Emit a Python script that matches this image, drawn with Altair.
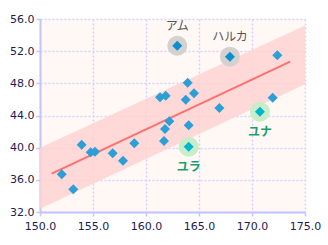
import altair as alt
import pandas as pd

# regular points (height cm, weight kg)
heights = [152.05, 153.14, 153.93, 154.78, 155.19, 156.86, 157.83, 158.90, 161.70, 161.79,
           162.20, 161.32, 161.86, 163.93, 163.75, 164.53, 164.03, 166.92, 172.39, 171.95]
weights = [36.69, 34.82, 40.37, 39.43, 39.50, 39.30, 38.38, 40.54, 40.83, 42.32,
           43.28, 46.27, 46.47, 48.08, 45.97, 46.76, 42.78, 44.94, 51.49, 46.22]

# highlighted people
names = ["アム", "ハルカ", "ユナ", "ユラ"]
hl_heights = [162.95, 167.92, 170.75, 164.03]
hl_weights = [52.68, 51.32, 44.48, 40.12]
hl_group = ["above", "above", "below", "below"]

# regression line and band
line_x = [151.1, 173.6]
line_y = [36.77, 50.70]
band_x = [150.0, 175.0]
band_lo = [32.4, 47.9]
band_hi = [40.0, 55.2]

x_ticks = [150, 155, 160, 165, 170, 175]
y_ticks = [32, 36, 40, 44, 48, 52, 56]

pts = pd.DataFrame({"h": heights, "w": weights})
hl = pd.DataFrame({"name": names, "h": hl_heights, "w": hl_weights, "g": hl_group})
ln = pd.DataFrame({"h": line_x, "w": line_y})
bd = pd.DataFrame({"h": band_x, "w": band_lo, "hi": band_hi})

xs = alt.Scale(domain=[150, 175], nice=False, zero=False)
ys = alt.Scale(domain=[32, 56], nice=False, zero=False)

axis_common = dict(
    format=".1f", labelFont="DejaVu Sans", labelFontSize=11, labelColor="#1c1c50",
    domainColor="#c4c4ff", domainWidth=2, tickColor="#c4c4ff", tickSize=4, tickWidth=1.5,
    gridColor="#d2d2ff", gridDash=[2, 2], gridWidth=1.5, title=None,
    labelOverlap=False, labelFlush=False, labelBound=False,
)
xaxis = alt.Axis(values=x_ticks, labelPadding=4, **axis_common)
yaxis = alt.Axis(values=y_ticks, labelPadding=2, **axis_common)

X = alt.X("h:Q", scale=xs, axis=xaxis)
Y = alt.Y("w:Q", scale=ys, axis=yaxis)

band = alt.Chart(bd).mark_area(color="#ffd2d2", opacity=0.85).encode(x=X, y=Y, y2="hi:Q")
line = alt.Chart(ln).mark_line(color="#ff7070", strokeWidth=2).encode(x=X, y=Y)
dots = alt.Chart(pts).mark_point(shape="diamond", filled=True, size=100, color="#2b9fd6", opacity=1).encode(x=X, y=Y)
halo = alt.Chart(hl).mark_circle(size=400, opacity=1).encode(
    x=X, y=Y,
    color=alt.Color("g:N", scale=alt.Scale(domain=["above", "below"], range=["#d4d1cf", "#c9ecc9"]), legend=None),
)
hl_dots = alt.Chart(hl).mark_point(shape="diamond", filled=True, size=100, opacity=1).encode(
    x=X, y=Y,
    color=alt.Color("g:N", scale=alt.Scale(domain=["above", "below"], range=["#0a90d0", "#00b6cc"]), legend=None),
)
lab_above = alt.Chart(hl[hl.g == "above"]).mark_text(
    dy=-20, font="Noto Sans CJK JP", fontSize=12, color="#555555"
).encode(x=X, y=Y, text="name:N")
lab_below = alt.Chart(hl[hl.g == "below"]).mark_text(
    dy=20, font="Noto Sans CJK JP", fontSize=12, color="#1a9e6e", fontWeight="bold"
).encode(x=X, y=Y, text="name:N")

chart = alt.layer(band, line, dots, halo, hl_dots, lab_above, lab_below).resolve_scale(
    color="independent"
).properties(
    width=265, height=193,
    autosize=alt.AutoSizeParams(type="none"),
    padding={"left": 40, "top": 19, "right": 23, "bottom": 33},
    background="white",
).configure_view(fill="#fff8f5", stroke=None)

chart.save("out.html", embed_options={"renderer": "svg", "actions": False})
